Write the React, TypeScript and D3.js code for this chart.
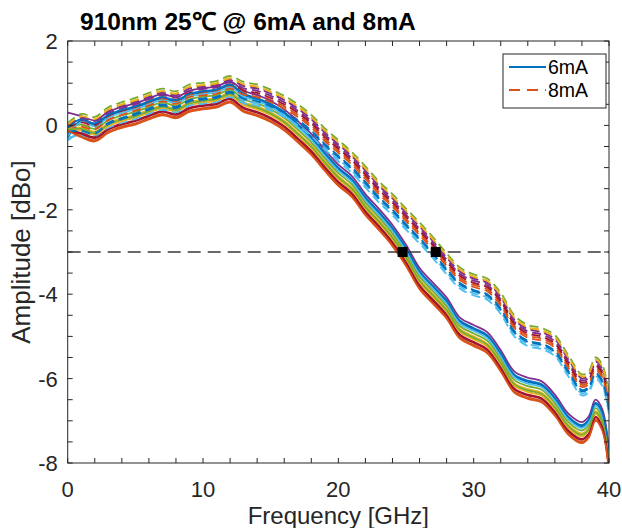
import React from "react";
import * as d3 from "d3";

// frequency grid [GHz]
const freqs = [0, 1, 2, 3, 4, 5, 6, 7, 8, 9, 10, 11, 12, 13, 14, 15, 16, 17, 18, 19, 20,
  21, 22, 23, 24, 25, 26, 27, 28, 29, 30, 31, 32, 33, 34, 35, 36, 37, 38, 38.5, 39, 39.5, 40];

// mean response of the 6mA traces [dBo]
const base6 = [-0.08, 0.0, -0.1, 0.1, 0.22, 0.3, 0.42, 0.52, 0.45, 0.6, 0.66, 0.7, 0.82, 0.6,
  0.5, 0.36, 0.16, -0.12, -0.42, -0.8, -1.15, -1.42, -1.85, -2.2, -2.58, -3.05, -3.6, -3.95,
  -4.3, -4.78, -4.95, -5.12, -5.55, -6.05, -6.2, -6.28, -6.6, -7.05, -7.25, -7.12, -6.72, -6.95, -7.95];

// mean response of the 8mA traces [dBo]
const base8 = [-0.05, 0.02, -0.05, 0.18, 0.3, 0.4, 0.52, 0.62, 0.56, 0.72, 0.76, 0.8, 0.92, 0.78,
  0.72, 0.6, 0.45, 0.25, 0.0, -0.32, -0.6, -0.88, -1.22, -1.58, -1.88, -2.22, -2.55, -2.9,
  -3.28, -3.62, -3.78, -3.88, -4.22, -4.75, -4.98, -5.05, -5.22, -5.7, -6.15, -6.08, -5.75, -5.92, -6.6];

// per-device offsets from the mean, and the value at 0 GHz
const offsets6 = [0.12, -0.05, 0.02, -0.18, -0.25, 0.22, 0.08, 0.15, -0.12, -0.08, -0.2, -0.28];
const start6 = [-0.3, -0.1, -0.05, -0.1, -0.12, 0.3, -0.25, -0.05, -0.08, -0.1, -0.15, -0.12];
const offsets8 = [0.0, 0.1, -0.2, -0.12, 0.18, 0.25, 0.05, -0.05, 0.15, -0.25, -0.15, 0.2];
const start8 = [-0.05, 0.05, -0.35, -0.2, 0.0, 0.05, -0.05, -0.1, 0.0, -0.3, -0.15, 0.02];

// -3 dB crossing markers
const markers = [{ f: 24.75, a: -3 }, { f: 27.2, a: -3 }];

const xTicks = [0, 10, 20, 30, 40];
const yTicks = [-8, -6, -4, -2, 0, 2];

const colors = ["#0072BD", "#D95319", "#EDB120", "#7E2F8E", "#77AC30", "#4DBEEE", "#A2142F"];

const W = 622;
const H = 528;
const left = 67.7, right = 609, top = 41, bottom = 463;
const font = "'Liberation Sans', Arial, Helvetica, sans-serif";
const axisCol = "#262626";

export default function App() {
  const x = d3.scaleLinear().domain([0, 40]).range([left, right]);
  const y = d3.scaleLinear().domain([-8, 2]).range([bottom, top]);
  const line = d3
    .line<[number, number]>()
    .x((d) => x(d[0]))
    .y((d) => y(d[1]))
    .curve(d3.curveCatmullRom.alpha(0.5));

  // traces were plotted as pairs: 6mA solid, then 8mA dashed
  const traces: { d: string; color: string; dashed: boolean }[] = [];
  offsets6.forEach((off, i) => {
    const pts6 = freqs.map((f, j) => [f, j === 0 ? start6[i] : base6[j] + off] as [number, number]);
    traces.push({ d: line(pts6) || "", color: colors[(2 * i) % 7], dashed: false });
    const pts8 = freqs.map((f, j) => [f, j === 0 ? start8[i] : base8[j] + offsets8[i]] as [number, number]);
    traces.push({ d: line(pts8) || "", color: colors[(2 * i + 1) % 7], dashed: true });
  });

  const xMinor = d3.range(0, 40.01, 2);
  const yMinor = d3.range(-8, 2.01, 0.5);
  const tl = 5;

  return (
    <svg width={W} height={H} style={{ position: "absolute", left: 0, top: 0, background: "#fff" }}
      fontFamily={font}>
      <defs>
        <clipPath id="plot">
          <rect x={left} y={top} width={right - left} height={bottom - top} />
        </clipPath>
      </defs>

      <text x={80} y={30} fontSize={24.5} fontWeight="bold" fill="#000">910nm 25℃ @ 6mA and 8mA</text>

      <g clipPath="url(#plot)">
        {traces.map((t, i) => (
          <path key={i} d={t.d} fill="none" stroke={t.color} strokeWidth={1.8}
            strokeDasharray={t.dashed ? "9,5" : undefined} strokeLinejoin="round" />
        ))}
        <line x1={left} x2={right} y1={y(-3)} y2={y(-3)} stroke="#3a3a3a" strokeWidth={1.4}
          strokeDasharray="13,7" />
        {markers.map((m, i) => (
          <rect key={i} x={x(m.f) - 5} y={y(m.a) - 5} width={10} height={10} fill="#000" />
        ))}
      </g>

      {/* box and ticks */}
      <rect x={left} y={top} width={right - left} height={bottom - top} fill="none" stroke={axisCol} strokeWidth={1} />
      {xMinor.map((v) => (
        <g key={"x" + v} stroke={axisCol} strokeWidth={1}>
          <line x1={x(v)} x2={x(v)} y1={bottom} y2={bottom - tl} />
          <line x1={x(v)} x2={x(v)} y1={top} y2={top + tl} />
        </g>
      ))}
      {yMinor.map((v) => (
        <g key={"y" + v} stroke={axisCol} strokeWidth={1}>
          <line x1={left} x2={left + tl} y1={y(v)} y2={y(v)} />
          <line x1={right} x2={right - tl} y1={y(v)} y2={y(v)} />
        </g>
      ))}
      {xTicks.map((v) => (
        <text key={"xt" + v} x={x(v)} y={bottom + 34} fontSize={22} textAnchor="middle" fill={axisCol}>{v}</text>
      ))}
      {yTicks.map((v) => (
        <text key={"yt" + v} x={left - 10} y={y(v) + 8} fontSize={22} textAnchor="end" fill={axisCol}>{v}</text>
      ))}
      <text x={(left + right) / 2} y={524} fontSize={24} textAnchor="middle" fill={axisCol}>Frequency [GHz]</text>
      <text transform={`translate(30,${(top + bottom) / 2}) rotate(-90)`} fontSize={26} textAnchor="middle"
        fill={axisCol}>Amplitude [dBo]</text>

      {/* legend */}
      <g>
        <rect x={503} y={54} width={103} height={54} fill="#fff" stroke={axisCol} strokeWidth={1} />
        <line x1={509} x2={546} y1={67} y2={67} stroke={colors[0]} strokeWidth={1.8} />
        <text x={548} y={74} fontSize={19.5} fill="#000">6mA</text>
        <line x1={509} x2={546} y1={90} y2={90} stroke={colors[1]} strokeWidth={1.8} strokeDasharray="11,7" />
        <text x={548} y={97} fontSize={19.5} fill="#000">8mA</text>
      </g>
    </svg>
  );
}
